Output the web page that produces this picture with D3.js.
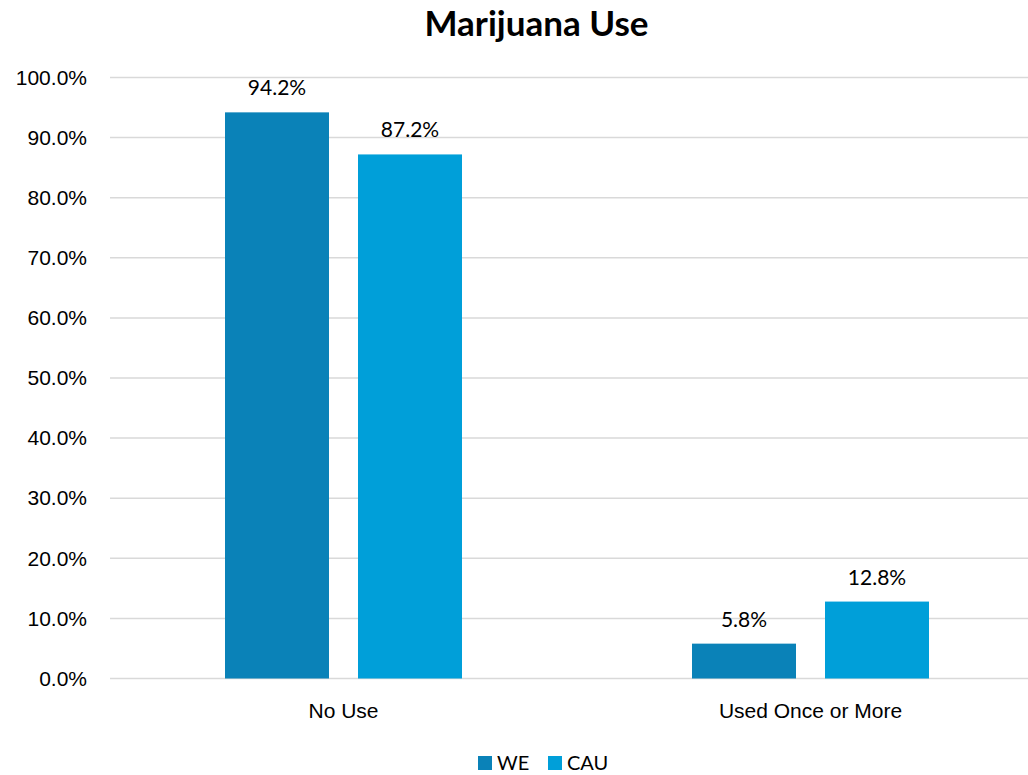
<!DOCTYPE html>
<html>
<head>
<meta charset="utf-8">
<script src="https://cdn.jsdelivr.net/npm/d3@7"></script>
<style>
  html, body { margin: 0; padding: 0; background: #fff; }
  svg { display: block; font-family: Lato, "Open Sans", sans-serif; }
</style>
</head>
<body>
<svg id="chart" width="1028" height="775"></svg>
<script>
// Categories, series and axis ticks
const categories = ["No Use", "Used Once or More"];
const seriesNames = ["WE", "CAU"];
const weValues = [94.2, 5.8];
const cauValues = [87.2, 12.8];
const tickValues = [0, 10, 20, 30, 40, 50, 60, 70, 80, 90, 100];
const colors = ["#0A82B8", "#009FD9"];

const svg = d3.select("#chart");
const margin = { left: 110, right: -16, top: 77.5, bottom: 96.5 };
const width = 1028 - margin.left - margin.right;
const height = 775 - margin.top - margin.bottom;
const fontSize = 21;

const g = svg.append("g").attr("transform", `translate(${margin.left},${margin.top})`);

const x = d3.scaleBand().domain(categories).range([0, width]).paddingInner(0).paddingOuter(0);
const y = d3.scaleLinear().domain([0, 100]).range([height, 0]);

// Gridlines
g.selectAll("line.grid")
  .data(tickValues)
  .join("line")
  .attr("class", "grid")
  .attr("x1", 0).attr("x2", width)
  .attr("y1", d => y(d)).attr("y2", d => y(d))
  .attr("stroke", "#d9d9d9").attr("stroke-width", 1.5);

// Y axis labels
const yAxis = d3.axisLeft(y).tickValues(tickValues).tickSize(0).tickPadding(23)
  .tickFormat(d => d.toFixed(1) + "%");
g.append("g").call(yAxis)
  .call(s => s.select(".domain").remove())
  .selectAll("text")
  .attr("font-size", fontSize).attr("fill", "#000");

// X axis labels
const xAxis = d3.axisBottom(x).tickSize(0).tickPadding(24.5);
g.append("g").attr("transform", `translate(0,${height})`).call(xAxis)
  .call(s => s.select(".domain").remove())
  .selectAll("text")
  .attr("font-size", fontSize).attr("fill", "#000");

// Bars within each category
const groupWidth = 237;
const sub = d3.scaleBand().domain(seriesNames).range([0, groupWidth]).paddingInner(29 / 133);

const rows = categories.map((c, i) => ({ cat: c, vals: [weValues[i], cauValues[i]] }));

const groups = g.selectAll("g.cat")
  .data(rows)
  .join("g")
  .attr("class", "cat")
  .attr("transform", d => `translate(${x(d.cat) + (x.bandwidth() - groupWidth) / 2},0)`);

groups.selectAll("rect")
  .data(d => d.vals.map((v, j) => ({ s: seriesNames[j], v })))
  .join("rect")
  .attr("x", d => sub(d.s))
  .attr("width", sub.bandwidth())
  .attr("y", d => y(d.v))
  .attr("height", d => y(0) - y(d.v))
  .attr("fill", (d, j) => colors[j]);

groups.selectAll("text.val")
  .data(d => d.vals.map((v, j) => ({ s: seriesNames[j], v })))
  .join("text")
  .attr("class", "val")
  .attr("x", d => sub(d.s) + sub.bandwidth() / 2)
  .attr("y", d => y(d.v) - 17)
  .attr("text-anchor", "middle")
  .attr("font-size", fontSize)
  .attr("fill", "#000")
  .text(d => d.v.toFixed(1) + "%");

// Title
svg.append("text")
  .attr("x", 536.5).attr("y", 36)
  .attr("text-anchor", "middle")
  .attr("font-size", 35).attr("font-weight", "bold")
  .attr("fill", "#000")
  .text("Marijuana Use");

// Legend
const legend = svg.append("g").attr("transform", "translate(478,756)");
const legendItems = [{ name: "WE", x: 0 }, { name: "CAU", x: 70 }];
legendItems.forEach((it, i) => {
  legend.append("rect").attr("x", it.x).attr("y", 0).attr("width", 14).attr("height", 14).attr("fill", colors[i]);
  legend.append("text").attr("x", it.x + 19).attr("y", 14)
    .attr("font-size", 20).attr("fill", "#000").text(it.name);
});
</script>
</body>
</html>
